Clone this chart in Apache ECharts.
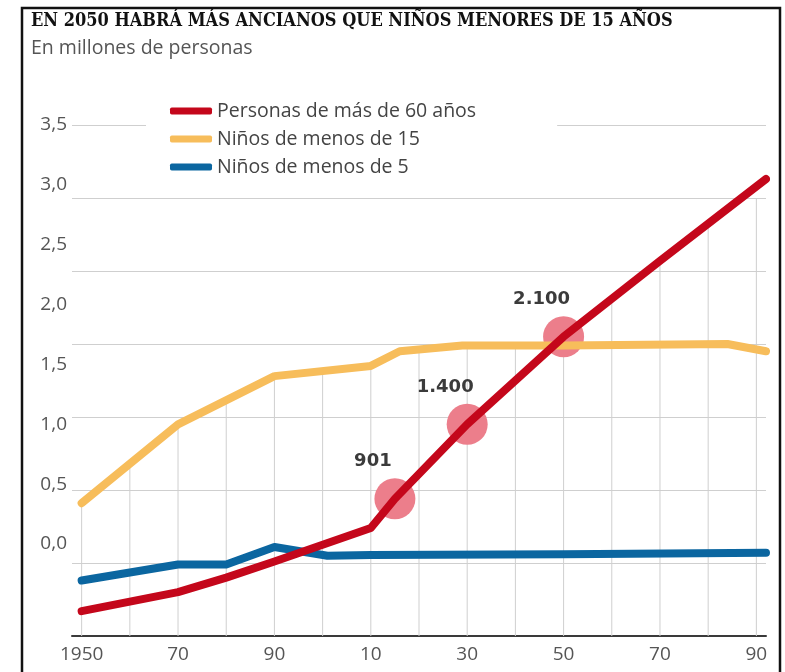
<!DOCTYPE html>
<html>
<head>
<meta charset="utf-8">
<script src="https://cdn.jsdelivr.net/npm/echarts@6/dist/echarts.min.js"></script>
<style>
html, body { margin: 0; padding: 0; background: #fff; }
#chart { width: 785px; height: 672px; }
</style>
</head>
<body>
<div id="chart"></div>
<script>
// valores (miles de millones de personas)
const seriesNames = ['Personas de más de 60 años', 'Niños de menos de 15', 'Niños de menos de 5'];
const seriesColors = ['#c4071b', '#f7bd5b', '#0b66a0'];

const oldYears = [1950, 1970, 1980, 1990, 2010, 2015, 2030, 2050, 2070, 2092];
const oldValues = [0.17, 0.30, 0.40, 0.51, 0.74, 0.94, 1.45, 2.05, 2.57, 3.13];

const kidsYears = [1950, 1970, 1990, 2010, 2016, 2029, 2050, 2084, 2092];
const kidsValues = [0.91, 1.45, 1.78, 1.85, 1.95, 1.99, 1.99, 2.00, 1.95];

const babyYears = [1950, 1970, 1980, 1990, 2001, 2010, 2050, 2092];
const babyValues = [0.38, 0.49, 0.49, 0.61, 0.55, 0.555, 0.56, 0.57];

// puntos destacados sobre la linea roja
const markYears = [2015, 2030, 2050];
const markValues = [0.94, 1.45, 2.05];
const markLabels = ['901', '1.400', '2.100'];

// lineas verticales: hasta donde llega cada decada
const ruleYears = [1950, 1960, 1970, 1980, 1990, 2000, 2010, 2020, 2030, 2040, 2050, 2060, 2070, 2080, 2090];
const ruleTops = [0.91, 1.18, 1.45, 1.62, 1.78, 1.82, 1.85, 1.97, 1.99, 1.99, 2.05, 2.31, 2.57, 2.82, 3.0];

const xTicks = [1950, 1970, 1990, 2010, 2030, 2050, 2070, 2090];
const yTicks = [0, 0.5, 1, 1.5, 2, 2.5, 3, 3.5];

function pairs(xs, ys) {
	return xs.map(function(x, i) { return [x, ys[i]]; });
}

function lineSeries(i, xs, ys, z) {
	return {
		name: seriesNames[i],
		type: 'line',
		data: pairs(xs, ys),
		showSymbol: false,
		clip: false,
		silent: true,
		z: z,
		lineStyle: { color: seriesColors[i], width: 8, cap: 'round', join: 'round' },
		itemStyle: { color: seriesColors[i] }
	};
}

var myChart = echarts.init(document.getElementById('chart'));
var option = {
	animation: false,
	backgroundColor: '#fff',
	title: [{
		text: 'EN 2050 HABRÁ MÁS ANCIANOS QUE NIÑOS MENORES DE 15 AÑOS',
		left: 31, top: 10, padding: 0,
		textStyle: { fontFamily: 'DejaVu Serif Condensed', fontWeight: 'bold', fontSize: 18, lineHeight: 22, color: '#111' }
	}, {
		text: 'En millones de personas',
		left: 31, top: 37, padding: 0,
		textStyle: { fontFamily: 'Open Sans', fontWeight: 'normal', fontSize: 19.5, lineHeight: 22, color: '#555' }
	}],
	legend: {
		data: seriesNames,
		orient: 'vertical',
		left: 146, top: 96,
		padding: [5, 81, 5, 24],
		backgroundColor: '#fff',
		itemWidth: 42, itemHeight: 7, itemGap: 8,
		icon: 'roundRect',
		textStyle: { fontFamily: 'Open Sans', fontSize: 19.5, lineHeight: 20, color: '#444' }
	},
	grid: { left: 72, right: 19, top: 125, bottom: 36 },
	xAxis: {
		type: 'value',
		min: 1948, max: 2092,
		axisLine: { lineStyle: { color: '#3a3a3a', width: 2 } },
		axisTick: { show: false },
		splitLine: { show: false },
		axisLabel: {
			customValues: xTicks,
			margin: 9,
			fontFamily: 'Open Sans', fontSize: 19, color: '#555',
			formatter: function(v) { return v == 1950 ? '1950' : String(v).slice(2); }
		}
	},
	yAxis: [{
		type: 'value',
		min: 0, max: 3.5, interval: 0.5,
		axisLine: { show: false },
		axisTick: { show: false },
		axisLabel: { show: false },
		splitLine: { lineStyle: { color: '#cfcfcf', width: 1 } }
	}, {
		// escala de las etiquetas impresas (desplazadas respecto a la reticula)
		type: 'value',
		position: 'left',
		min: -0.768, max: 3.5,
		axisLine: { show: false },
		axisTick: { show: false },
		splitLine: { show: false },
		axisLabel: {
			customValues: yTicks,
			margin: 5,
			fontFamily: 'Open Sans', fontSize: 19, color: '#555',
			formatter: function(v) { return v.toFixed(1).replace('.', ','); }
		}
	}],
	series: [{
		name: 'reglas',
		type: 'bar',
		data: pairs(ruleYears, ruleTops),
		barWidth: 1,
		silent: true,
		z: 0,
		itemStyle: { color: '#cfcfcf' }
	}, {
		name: 'marcas',
		type: 'scatter',
		data: pairs(markYears, markValues),
		symbolSize: 41,
		silent: true,
		z: 1,
		itemStyle: { color: '#ec7e8b', opacity: 1 },
		label: {
			show: true,
			position: 'inside',
			offset: [-22, -37],
			fontFamily: 'DejaVu Sans', fontWeight: 'bold', fontSize: 18, color: '#3b3b3b',
			formatter: function(p) { return markLabels[p.dataIndex]; }
		}
	},
		lineSeries(1, kidsYears, kidsValues, 2),
		lineSeries(2, babyYears, babyValues, 3),
		lineSeries(0, oldYears, oldValues, 4)
	],
	graphic: [{
		type: 'rect',
		silent: true,
		z: 100,
		shape: { x: 22, y: 8, width: 758, height: 700 },
		style: { fill: null, stroke: '#111', lineWidth: 2.5 }
	}]
};
myChart.setOption(option);
</script>
</body>
</html>
